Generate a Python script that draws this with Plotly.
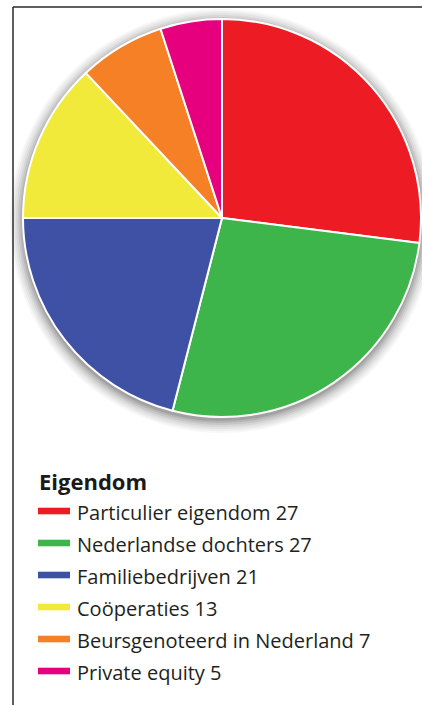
import plotly.graph_objects as go

W, H = 422, 705

legend_title = "Eigendom"
labels = ["Particulier eigendom", "Nederlandse dochters", "Familiebedrijven",
          "Coöperaties", "Beursgenoteerd in Nederland", "Private equity"]
values = [27, 27, 21, 13, 7, 5]
colors = ["#ED1C24", "#3DB54A", "#3F51A5", "#F2EA3A", "#F58025", "#E6007E"]

def px(x):
    return x / W

def py(y):
    return 1 - y / H

cx, cy, r = 222, 218, 199

fig = go.Figure()
fig.add_trace(go.Pie(
    labels=labels,
    values=values,
    sort=False,
    direction="clockwise",
    rotation=0,
    marker=dict(colors=colors, line=dict(color="white", width=2)),
    textinfo="none",
    hoverinfo="label+value",
    showlegend=False,
    domain=dict(x=[px(cx - r), px(cx + r)], y=[py(cy + r), py(cy - r)]),
))

shapes = []
# soft shadow behind the pie
for dr, op in [(13, 0.04), (11, 0.05), (9, 0.06), (7, 0.08), (5, 0.10), (3, 0.13), (1, 0.16)]:
    rr = r + dr
    oy = 3
    shapes.append(dict(type="circle", xref="paper", yref="paper", layer="below",
                       x0=px(cx - rr), x1=px(cx + rr), y0=py(cy + oy + rr), y1=py(cy + oy - rr),
                       fillcolor=f"rgba(60,60,60,{op})", line=dict(width=0)))
# frame lines
shapes.append(dict(type="line", xref="paper", yref="paper", x0=px(13), x1=px(W), y0=py(7), y1=py(7),
                   line=dict(color="#2a2a2a", width=1.5)))
shapes.append(dict(type="line", xref="paper", yref="paper", x0=px(13), x1=px(13), y0=py(7), y1=py(H),
                   line=dict(color="#2a2a2a", width=1.5)))

annotations = [dict(text="<b>" + legend_title + "</b>", xref="paper", yref="paper",
                    x=px(37), y=py(481), xanchor="left", yanchor="middle", showarrow=False,
                    font=dict(family="Open Sans", size=22, color="#1a1a1a", weight=800))]
y0, step = 511, 32
for i, (lab, val, col) in enumerate(zip(labels, values, colors)):
    yy = y0 + i * step
    shapes.append(dict(type="rect", xref="paper", yref="paper",
                       x0=px(38), x1=px(70), y0=py(yy + 3.3), y1=py(yy - 3.3),
                       fillcolor=col, line=dict(width=0)))
    annotations.append(dict(text=f"{lab} {val}", xref="paper", yref="paper",
                            x=px(75), y=py(yy + 1), xanchor="left", yanchor="middle", showarrow=False,
                            font=dict(family="Open Sans", size=20, color="#231f20")))

fig.update_layout(width=W, height=H, margin=dict(l=0, r=0, t=0, b=0),
                  paper_bgcolor="white", plot_bgcolor="white",
                  shapes=shapes, annotations=annotations)
fig.write_html("out.html", config={"displayModeBar": False},
               post_script="document.body.style.margin='0';document.body.style.overflow='hidden';")
